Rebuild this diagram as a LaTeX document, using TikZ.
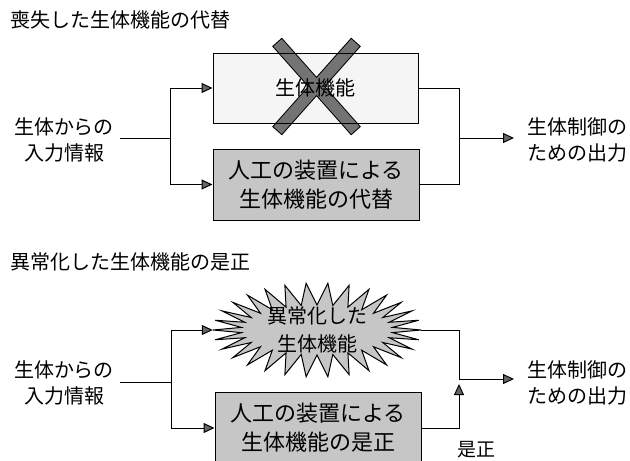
\documentclass[tikz,border=0pt]{standalone}
\usepackage{fontspec}
\setmainfont{Noto Sans CJK JP}
\usetikzlibrary{arrows.meta}
\begin{document}
\begin{tikzpicture}[x=1pt,y=-1pt,
  conn/.style={line width=0.9pt},
  arr/.style={conn,-{Triangle[length=11pt,width=10pt,fill=black!60,line width=1pt]}},
  lightbox/.style={draw, line width=1pt, minimum width=205pt, minimum height=70pt, inner sep=0pt, align=center, font=\fontsize{20}{26}\selectfont},
  darkbox/.style={draw, line width=1pt, fill=gray!45, minimum width=206pt, minimum height=71pt, inner sep=0pt, align=center, font=\fontsize{22}{29}\selectfont},
  title/.style={anchor=west, inner sep=0pt, font=\fontsize{20}{24}\selectfont},
  inlbl/.style={align=center, inner sep=0pt, outer sep=6pt, font=\fontsize{20}{26}\selectfont},
  outlbl/.style={align=center, inner sep=0pt, outer sep=13pt, font=\fontsize{20}{26}\selectfont},
  crossout/.style={line width=13pt},
  crossin/.style={black!55, line width=11pt, shorten <=1pt, shorten >=1pt},
  burstlbl/.style={inner sep=0pt, minimum width=208pt, minimum height=94pt, align=center, font=\fontsize{20}{28}\selectfont},
  plain/.style={inner sep=0pt, font=\fontsize{19}{24}\selectfont}
]
\useasboundingbox (0,0) rectangle (630,461);
\fill[white] (0,0) rectangle (630,461);

% titles
\node[title] (t1) at (10,20) {喪失した生体機能の代替};
\node[title] (t2) at (10,262) {異常化した生体機能の是正};

% ---------- section 1 ----------
\fill[gray!8] (213,53) rectangle (418,123);
\draw[crossout] (277,42) -- (356,131);
\draw[crossout] (356,42) -- (277,131);
\draw[crossin] (277,42) -- (356,131);
\draw[crossin] (356,42) -- (277,131);
\node[lightbox] (f1) at (315.5,88) {生体機能};
\node[darkbox] (r1) at (316,184.5) {人工の装置による\\生体機能の代替};
\node[inlbl] (in1) at (64,140) {生体からの\\入力情報};
\node[outlbl] (out1) at (577,140) {生体制御の\\ための出力};
\coordinate (s1) at (170,138);
\coordinate (m1) at (459,138);
\draw[conn] (in1.east |- s1) -- (s1);
\draw[arr] (s1) |- (f1.west);
\draw[arr] (s1) |- (r1.west);
\draw[conn] (f1.east) -| (m1);
\draw[conn] (r1.east) -| (m1);
\draw[arr] (m1) -- (out1.west |- m1);

% ---------- section 2 ----------
\draw[line width=1pt, fill=gray!45] plot[domain=0:59, samples=60]
  ({317+(90+14*cos(180*\x))*cos(\x*6)}, {330+(36+11*cos(180*\x))*sin(\x*6)}) -- cycle;
\node[burstlbl] (sb) at (317,330) {異常化した\\生体機能};
\node[darkbox] (r2) at (318,428) {人工の装置による\\生体機能の是正};
\node[inlbl] (in2) at (64,383) {生体からの\\入力情報};
\node[outlbl] (out2) at (577,383) {生体制御の\\ための出力};
\coordinate (s2) at (171,382);
\coordinate (m2) at (459,379);
\coordinate (u2) at (459,384);
\draw[conn] (in2.east |- s2) -- (s2);
\draw[arr] (s2) |- (sb.west);
\draw[arr] (s2) |- (r2.west);
\draw[conn] (sb.east) -| (m2);
\draw[arr] (r2.east) -| (u2);
\draw[arr] (m2) -- (out2.west |- m2);
\node[plain] (fix) at (476,450) {是正};
\end{tikzpicture}
\end{document}
